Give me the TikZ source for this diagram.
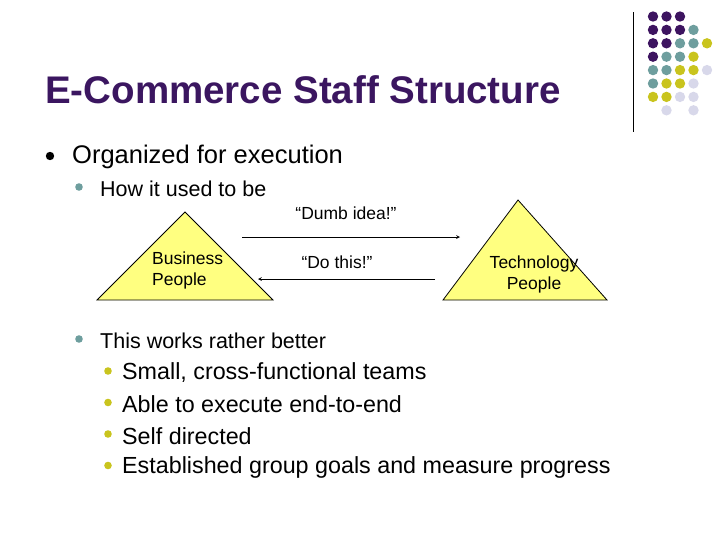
\documentclass[tikz,border=0pt]{standalone}
\usepackage{fontspec}
\setmainfont{Liberation Sans}
\begin{document}
\begin{tikzpicture}[x=1pt,y=-1pt,
 txt/.style={anchor=west,inner sep=0pt},
 tri/.style={draw=black,fill=yellowtri,line width=0.8pt},
 lab/.style={inner sep=0pt,font=\fontsize{17.5}{21}\selectfont}]
\definecolor{pur}{HTML}{3D1460}
\definecolor{teal}{HTML}{6E9E9E}
\definecolor{yel}{HTML}{C9C41E}
\definecolor{lil}{HTML}{D8D8EA}
\definecolor{yellowtri}{HTML}{FFFF80}
\definecolor{titlec}{HTML}{3B1660}
\useasboundingbox (0,0) rectangle (728,546);
% dots
\def\dotrow#1#2#3#4#5#6{%
 \foreach \cl [count=\c from 0] in {#2,#3,#4,#5,#6}{%
  \ifx\cl\empty\else
  \fill[\cl] (653+13.5*\c,16.5+13.4*#1) circle (5.2);\fi}}
\dotrow{0}{pur}{pur}{pur}{}{}
\dotrow{1}{pur}{pur}{pur}{teal}{}
\dotrow{2}{pur}{pur}{teal}{teal}{yel}
\dotrow{3}{pur}{teal}{teal}{yel}{}
\dotrow{4}{teal}{teal}{yel}{yel}{lil}
\dotrow{5}{teal}{yel}{yel}{lil}{}
\dotrow{6}{yel}{yel}{lil}{lil}{}
\dotrow{7}{}{lil}{}{lil}{}
\draw[line width=1pt] (633,12) -- (633,132);
% title
\node[txt,text=titlec,font=\fontsize{38.5}{42}\selectfont\bfseries] (title) at (45,90) {E-Commerce Staff Structure};
% bullets
\fill (50,156) circle (4.2);
\node[txt,font=\fontsize{25.5}{28}\selectfont] (b1) at (72,157) {Organized for execution};
\fill[teal] (79,187) circle (3.8);
\node[txt,font=\fontsize{21.5}{24}\selectfont] (b2) at (100,189) {How it used to be};
\fill[teal] (79,339) circle (3.8);
\node[txt,font=\fontsize{21.5}{24}\selectfont] (b3) at (100,341) {This works rather better};
\foreach \t [count=\i from 0] in {{Small, cross-functional teams},{Able to execute end-to-end},{Self directed},{Established group goals and measure progress}}{
 \fill[yel] (108,371+31.5*\i) circle (3.8);
 \node[txt,font=\fontsize{23.3}{26}\selectfont] at (122,373+31.5*\i) {\t};
}
% triangles
\draw[tri] (97,300) -- (185,212) -- (273,300) -- cycle;
\draw[tri] (443,300) -- (518,200) -- (607,300) -- cycle;
\node[txt,align=left,lab] (bp) at (152,270) {Business\\People};
\node[align=center,lab] (tp) at (534,274) {Technology\\People};
\coordinate (a1) at (242,237); \coordinate (a2) at (460,237);
\coordinate (c1) at (435,279); \coordinate (c2) at (258,279);
\draw[-stealth,line width=0.7pt] (a1) -- (a2);
\draw[-stealth,line width=0.7pt] (c1) -- (c2);
\node[lab] (l1) at (346,213) {“Dumb idea!”};
\node[lab] (l2) at (337,262) {“Do this!”};
\end{tikzpicture}
\end{document}
